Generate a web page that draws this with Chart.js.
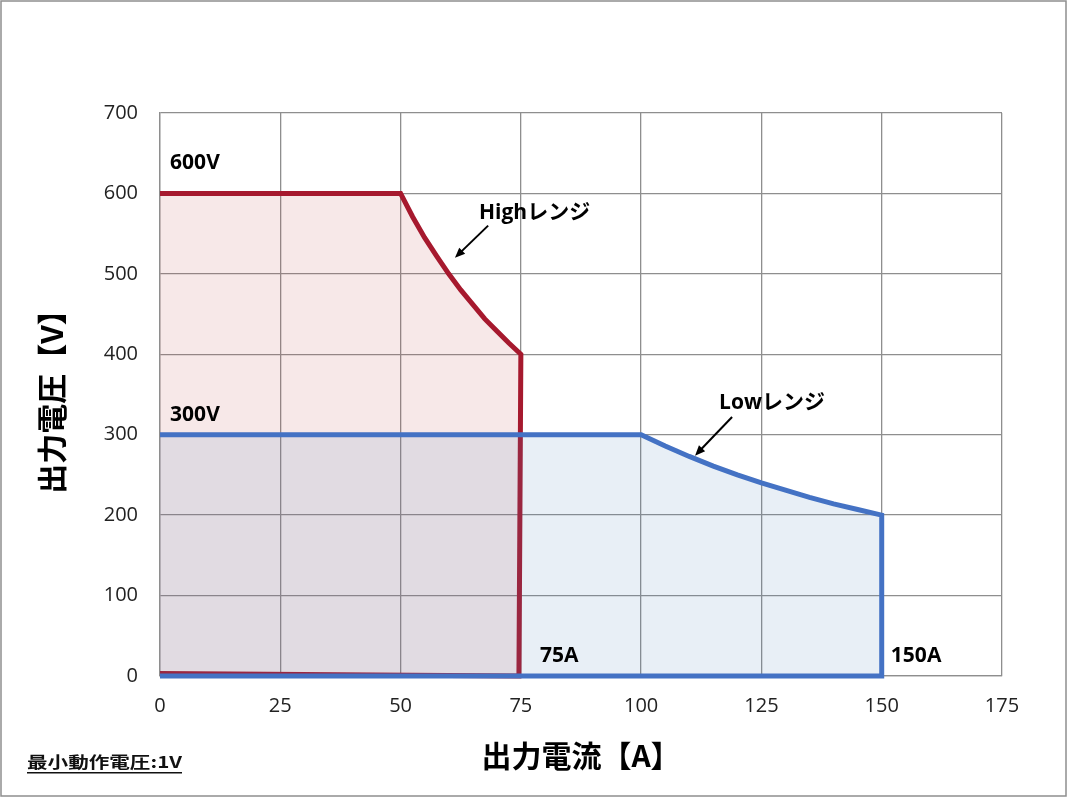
<!DOCTYPE html>
<html>
<head>
<meta charset="utf-8">
<script src="https://cdn.jsdelivr.net/npm/chart.js@4.4.1/dist/chart.umd.min.js"></script>
<style>
html, body { margin: 0; padding: 0; background: #fff; }
#wrap { width: 1068px; height: 798px; }
</style>
</head>
<body>
<div id="wrap"><canvas id="chart"></canvas></div>
<script>
// axis ticks
const xTicks = [0, 25, 50, 75, 100, 125, 150, 175];
const yTicks = [0, 100, 200, 300, 400, 500, 600, 700];

// High range outline (current A / voltage V)
const highCurrent = [0, 50, 52.5, 55, 57.5, 60, 62.5, 65, 67.5, 70, 72.5, 75, 74.6, 0];
const highVoltage = [600, 600, 571, 545, 522, 500, 480, 462, 444, 429, 414, 400, 0, 3];

// Low range outline
const lowCurrent = [0, 100, 105, 110, 115, 120, 125, 130, 135, 140, 145, 150, 150, 0];
const lowVoltage = [300, 300, 286, 273, 261, 250, 240, 231, 222, 214, 207, 200, 0, 0];

// text labels inside the plot (data coords)
const noteText = ["600V", "300V", "75A", "150A", "Highレンジ", "Lowレンジ"];
const noteX = [2.1, 2.1, 79.0, 151.9, 66.3, 116.2];
const noteY = [638, 325, 25, 25, 576, 340];

// arrows: from -> to (data coords)
const arrowFromX = [68.2, 118.9];
const arrowFromY = [560, 322];
const arrowToX = [61.3, 111.2];
const arrowToY = [520, 274];

const footNote = "最小動作電圧:1V";

const RED = "#a6192e";
const BLUE = "#4472c4";
const GRID = "#8e8e8e";
const LATIN = "'Open Sans', 'Noto Sans CJK JP', sans-serif";
const JP = "'Noto Sans CJK JP', 'Open Sans', sans-serif";

function toPoints(xs, ys) {
    return xs.map(function(x, i){ return {x: x, y: ys[i]}; });
}

const decorations = {
    id: "decorations",
    afterDatasetsDraw: function(chart) {
        let ctx = chart.ctx;
        let sx = chart.scales.x, sy = chart.scales.y;
        ctx.save();
        // labels
        ctx.fillStyle = "#000";
        ctx.textBaseline = "middle";
        ctx.textAlign = "left";
        ctx.font = "bold 21px " + LATIN;
        noteText.forEach(function(t, i){
            ctx.fillText(t, sx.getPixelForValue(noteX[i]), sy.getPixelForValue(noteY[i]));
        });
        // arrows
        ctx.strokeStyle = "#000";
        ctx.lineWidth = 2;
        arrowFromX.forEach(function(fx, i){
            let x1 = sx.getPixelForValue(fx), y1 = sy.getPixelForValue(arrowFromY[i]);
            let x2 = sx.getPixelForValue(arrowToX[i]), y2 = sy.getPixelForValue(arrowToY[i]);
            let a = Math.atan2(y2 - y1, x2 - x1);
            let head = 11;
            ctx.beginPath();
            ctx.moveTo(x1, y1);
            ctx.lineTo(x2 - Math.cos(a) * head * 0.8, y2 - Math.sin(a) * head * 0.8);
            ctx.stroke();
            ctx.beginPath();
            ctx.moveTo(x2, y2);
            ctx.lineTo(x2 - head * Math.cos(a - 0.4), y2 - head * Math.sin(a - 0.4));
            ctx.lineTo(x2 - head * Math.cos(a + 0.4), y2 - head * Math.sin(a + 0.4));
            ctx.closePath();
            ctx.fillStyle = "#000";
            ctx.fill();
        });
        ctx.restore();
    },
    afterDraw: function(chart) {
        let ctx = chart.ctx;
        ctx.save();
        // outer frame
        ctx.strokeStyle = GRID;
        ctx.lineWidth = 1.5;
        ctx.strokeRect(1, 1, chart.width - 3, chart.height - 3);
        // foot note, a bit wide like the original, underlined
        ctx.font = "bold 16px " + JP;
        ctx.fillStyle = "#111";
        ctx.textBaseline = "middle";
        ctx.textAlign = "left";
        let w = ctx.measureText(footNote).width;
        let stretch = 155 / w;
        ctx.translate(27, 762);
        ctx.scale(stretch, 1);
        ctx.fillText(footNote, 0, 0);
        ctx.fillRect(0, 10, w, 1.5);
        ctx.restore();
    }
};

new Chart(document.getElementById("chart"), {
    type: "scatter",
    data: {
        datasets: [
            {
                label: "Low",
                data: toPoints(lowCurrent, lowVoltage),
                showLine: true,
                borderColor: BLUE,
                borderWidth: 5,
                borderJoinStyle: "miter",
                backgroundColor: "rgba(79, 129, 189, 0.13)",
                fill: "shape",
                pointRadius: 0,
                tension: 0,
                clip: 6,
            },
            {
                label: "High",
                data: toPoints(highCurrent, highVoltage),
                showLine: true,
                borderColor: RED,
                borderWidth: 5,
                borderJoinStyle: "miter",
                backgroundColor: "rgba(192, 80, 77, 0.13)",
                fill: "shape",
                pointRadius: 0,
                tension: 0,
                clip: 6,
            }
        ]
    },
    options: {
        responsive: true,
        maintainAspectRatio: false,
        animation: false,
        layout: {padding: {top: 113, right: 66, bottom: 0, left: 0}},
        plugins: {
            legend: {display: false},
            tooltip: {enabled: false},
        },
        scales: {
            x: {
                type: "linear",
                min: 0,
                max: 175,
                afterBuildTicks: function(s){ s.ticks = xTicks.map(function(v){ return {value: v}; }); },
                afterFit: function(s){ s.height = 122; },
                ticks: {
                    color: "#222",
                    font: {family: LATIN, size: 20},
                    padding: 18,
                    maxRotation: 0,
                },
                grid: {color: GRID, lineWidth: 1.3, drawTicks: false},
                border: {color: GRID, width: 1.3},
                title: {
                    display: true,
                    text: "出力電流【A】",
                    color: "#000",
                    font: {family: JP, size: 30, weight: "bold"},
                    padding: {top: 0, bottom: 24},
                }
            },
            y: {
                type: "linear",
                min: 0,
                max: 700,
                afterBuildTicks: function(s){ s.ticks = yTicks.map(function(v){ return {value: v}; }); },
                afterFit: function(s){ s.width = 160; },
                ticks: {
                    color: "#222",
                    font: {family: LATIN, size: 20},
                    padding: 22,
                },
                grid: {color: GRID, lineWidth: 1.3, drawTicks: false},
                border: {color: GRID, width: 1.3},
                title: {
                    display: true,
                    text: "出力電圧【V】",
                    color: "#000",
                    font: {family: JP, size: 30, weight: "bold"},
                    padding: {top: 34, bottom: 0},
                }
            }
        }
    },
    plugins: [decorations]
});
</script>
</body>
</html>
